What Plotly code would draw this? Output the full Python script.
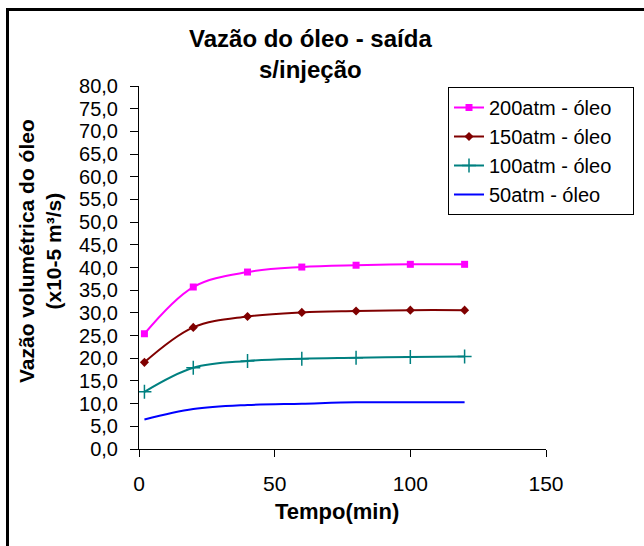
import plotly.graph_objects as go

tempo = [2, 20, 40, 60, 80, 100, 120]
oleo_200 = [25.4, 35.7, 39.0, 40.1, 40.5, 40.7, 40.7]
oleo_150 = [19.1, 26.8, 29.2, 30.1, 30.4, 30.6, 30.6]
oleo_100 = [12.6, 17.9, 19.4, 19.9, 20.1, 20.3, 20.4]
oleo_50 = [6.5, 8.8, 9.7, 10.0, 10.3, 10.3, 10.3]

series_names = ["200atm - óleo", "150atm - óleo", "100atm - óleo", "50atm - óleo"]
x_ticks = [0, 50, 100, 150]
y_ticks = [i * 5 for i in range(17)]

FONT = "Liberation Sans, Arial, sans-serif"
PAD = "\u00a0\u00a0\u00a0"

fig = go.Figure()
fig.add_trace(go.Scatter(x=tempo, y=oleo_200, name=series_names[0] + PAD, mode="lines+markers",
                         line=dict(color="#FF00FF", width=2, shape="spline"),
                         marker=dict(symbol="square", size=7, color="#FF00FF"),
                         legendgroup="a"))
fig.add_trace(go.Scatter(x=tempo, y=oleo_150, name=series_names[1] + PAD, mode="lines+markers",
                         line=dict(color="#800000", width=2, shape="spline"),
                         marker=dict(symbol="diamond", size=7, color="#800000"),
                         legendgroup="b"))
fig.add_trace(go.Scatter(x=tempo, y=oleo_100, name=series_names[2] + PAD, mode="lines+markers",
                         line=dict(color="#008080", width=2, shape="spline"),
                         marker=dict(symbol="cross-thin", size=10, color="#008080",
                                     line=dict(color="#008080", width=1.5)),
                         legendgroup="c"))
fig.add_trace(go.Scatter(x=tempo, y=oleo_50, name=series_names[3] + PAD, mode="lines",
                         line=dict(color="#0000FF", width=2, shape="spline"),
                         legendgroup="d"))

L, R, T, B = 139, 546, 86, 449
W, H = 644, 546
pw, ph = R - L, B - T

def px_x(p):
    return (p - L) / pw

def px_y(p):
    return (B - p) / ph

fig.update_layout(
    width=W, height=H, autosize=False,
    margin=dict(l=L, r=W - R, t=T, b=H - B, pad=0, autoexpand=False),
    paper_bgcolor="white", plot_bgcolor="white",
    separators=",.",
    font=dict(family=FONT, color="black", size=20),
    showlegend=True,
    legend=dict(x=px_x(448), y=px_y(87), xanchor="left", yanchor="top",
                bordercolor="black", borderwidth=1, bgcolor="white",
                font=dict(size=20), tracegroupgap=0),
    xaxis=dict(range=[0, 150], tickvals=x_ticks, showgrid=False, zeroline=False,
               showline=True, linecolor="black", linewidth=1, automargin=False,
               ticks="outside", ticklen=7, tickcolor="black",
               ticklabelstandoff=9, tickfont=dict(size=21)),
    yaxis=dict(range=[0, 80], tickvals=y_ticks, tickformat=".1f", showgrid=False,
               zeroline=False, showline=True, linecolor="black", linewidth=1, automargin=False,
               ticks="outside", ticklen=8, tickcolor="black",
               ticklabelstandoff=8, tickfont=dict(size=20)),
    annotations=[
        dict(text="<b>Vazão do óleo - saída<br>s/injeção</b>", xref="paper", yref="paper",
             x=px_x(310), y=px_y(54), xanchor="center", yanchor="middle",
             showarrow=False, font=dict(size=24)),
        dict(text="<b>Vazão volumétrica do óleo<br>(x10-5 m³/s)</b>", xref="paper", yref="paper",
             x=px_x(40), y=px_y(251), xanchor="center", yanchor="middle", textangle=-90,
             showarrow=False, font=dict(size=21)),
        dict(text="<b>Tempo(min)</b>", xref="paper", yref="paper",
             x=px_x(337), y=px_y(511), xanchor="center", yanchor="middle",
             showarrow=False, font=dict(size=22)),
    ],
    shapes=[
        dict(type="rect", xref="paper", yref="paper",
             x0=px_x(7.5), y0=px_y(700), x1=px_x(800), y1=px_y(9.5),
             line=dict(color="black", width=3), fillcolor="rgba(0,0,0,0)"),
    ],
)

fig.write_html("out.html")
